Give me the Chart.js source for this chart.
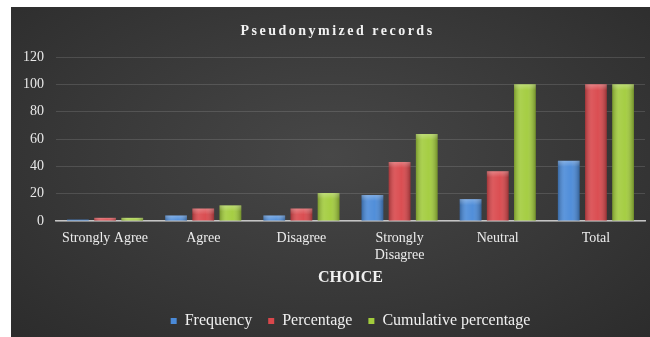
<!DOCTYPE html>
<html>
<head>
<meta charset="utf-8">
<script src="https://cdn.jsdelivr.net/npm/chart.js@4.4.1/dist/chart.umd.min.js"></script>
<style>
    html, body { margin: 0; padding: 0; background: #ffffff; }
    #wrap {
        position: absolute;
        left: 11px;
        top: 7px;
        width: 639px;
        height: 330px;
        background: radial-gradient(ellipse at 50% 45%, #474747 0%, #3b3b3b 45%, #2c2c2c 100%);
    }
</style>
</head>
<body>
<div id="wrap"><canvas id="chart"></canvas></div>
<script>
// Chart data
const categories = ['Strongly Agree', 'Agree', 'Disagree', ['Strongly', 'Disagree'], 'Neutral', 'Total'];
const frequency = [1, 4, 4, 19, 16, 44];
const percentage = [2.3, 9.1, 9.1, 43.2, 36.4, 100];
const cumulative = [2.3, 11.4, 20.5, 63.6, 100, 100];
const yTicks = [0, 20, 40, 60, 80, 100, 120];

const serif = '"Liberation Serif", "Times New Roman", serif';

// Title drawn by hand so it can keep the wide letter spacing
const titlePlugin = {
    id: 'spacedTitle',
    afterDraw(chart) {
        const ctx = chart.ctx;
        ctx.save();
        ctx.font = 'bold 14px ' + serif;
        ctx.fillStyle = '#f2f2f2';
        ctx.textAlign = 'center';
        ctx.textBaseline = 'middle';
        ctx.letterSpacing = '2.5px';
        ctx.fillText('Pseudonymized records', chart.width / 2 + 7, 24);
        ctx.restore();
    }
};

// Soft bevel shading on top of each bar
const bevelPlugin = {
    id: 'bevel',
    afterDatasetsDraw(chart) {
        const ctx = chart.ctx;
        chart.data.datasets.forEach((ds, i) => {
            chart.getDatasetMeta(i).data.forEach(bar => {
                const w = bar.width;
                const left = bar.x - w / 2;
                const top = Math.min(bar.y, bar.base);
                const h = Math.abs(bar.base - bar.y);
                if (h < 1) return;
                const g = ctx.createLinearGradient(left, 0, left + w, 0);
                g.addColorStop(0, 'rgba(0,0,0,0.25)');
                g.addColorStop(0.3, 'rgba(255,255,255,0.10)');
                g.addColorStop(0.6, 'rgba(255,255,255,0.04)');
                g.addColorStop(1, 'rgba(0,0,0,0.30)');
                ctx.save();
                ctx.fillStyle = g;
                ctx.fillRect(left, top, w, h);
                const v = ctx.createLinearGradient(0, top, 0, top + Math.min(6, h));
                v.addColorStop(0, 'rgba(255,255,255,0.25)');
                v.addColorStop(1, 'rgba(255,255,255,0)');
                ctx.fillStyle = v;
                ctx.fillRect(left, top, w, Math.min(6, h));
                ctx.restore();
            });
        });
    }
};

const ctx = document.getElementById('chart').getContext('2d');
new Chart(ctx, {
    type: 'bar',
    data: {
        labels: categories,
        datasets: [
            { label: 'Frequency', data: frequency, backgroundColor: '#4a8ad8' },
            { label: 'Percentage', data: percentage, backgroundColor: '#d9474b' },
            { label: 'Cumulative percentage', data: cumulative, backgroundColor: '#a2cc3c' }
        ]
    },
    options: {
        responsive: true,
        maintainAspectRatio: false,
        animation: false,
        datasets: {
            bar: { categoryPercentage: 0.83, barPercentage: 0.8 }
        },
        layout: {
            padding: { top: 50, right: 5, left: 0, bottom: -2 }
        },
        plugins: {
            title: { display: false },
            tooltip: { enabled: false },
            legend: {
                position: 'bottom',
                fullSize: false,
                labels: {
                    color: '#f0f0f0',
                    font: { family: serif, size: 16 },
                    boxWidth: 6,
                    boxHeight: 6,
                    padding: 16
                }
            }
        },
        scales: {
            x: {
                grid: { display: false },
                border: { color: '#c4c4c4', width: 1.5 },
                afterFit(scale) { scale.height = 76; },
                ticks: {
                    color: '#ececec',
                    font: { family: serif, size: 14 },
                    maxRotation: 0,
                    padding: 1
                },
                title: {
                    display: true,
                    text: 'CHOICE',
                    color: '#f0f0f0',
                    font: { family: serif, size: 16, weight: 'bold' },
                    padding: { top: 0, bottom: 10 }
                }
            },
            y: {
                min: 0,
                max: 120,
                afterFit(scale) { scale.width = 45; },
                afterBuildTicks(scale) { scale.ticks = yTicks.map(v => ({ value: v })); },
                grid: { color: 'rgba(255,255,255,0.13)', drawTicks: false },
                border: { display: false },
                ticks: {
                    color: '#e8e8e8',
                    font: { family: serif, size: 14 },
                    padding: 12
                }
            }
        }
    },
    plugins: [titlePlugin, bevelPlugin]
});
</script>
</body>
</html>
